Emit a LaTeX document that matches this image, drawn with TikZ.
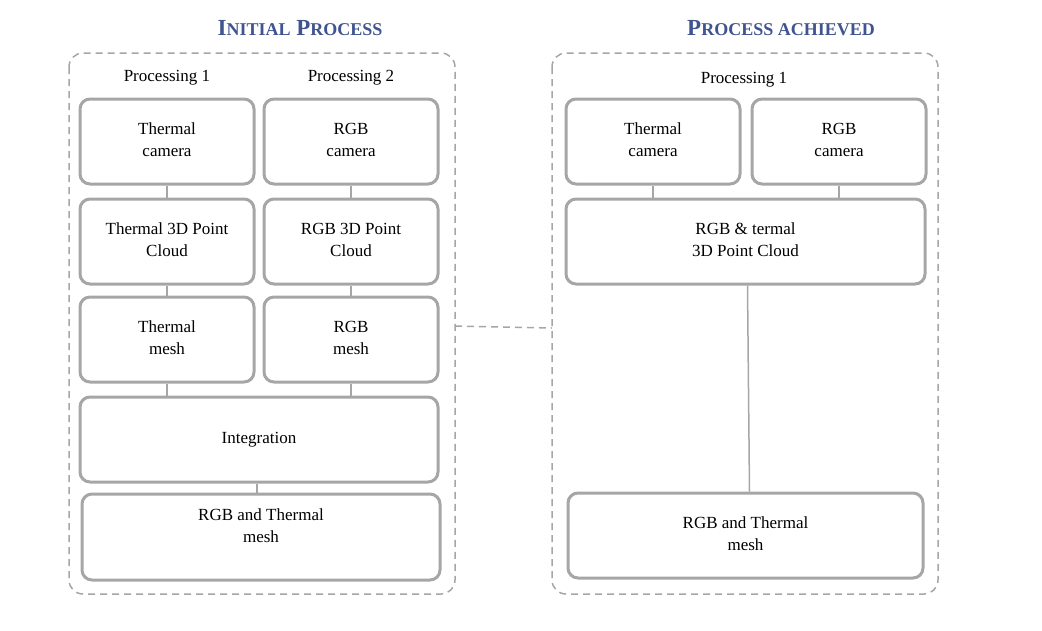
\documentclass[tikz,border=0pt]{standalone}
\usepackage{fontspec}
\setmainfont{Liberation Serif}
\usepackage{tikz}
\definecolor{Boxgray}{HTML}{A6A6A6}
\definecolor{Titleblue}{HTML}{3F5490}
\tikzset{
  stepbox/.style={draw=Boxgray, line width=3pt, rounded corners=10pt, fill=white,
    align=center, font=\fontsize{17}{22}\selectfont, inner sep=0pt, text depth=4pt},
  frame/.style={draw=Boxgray, dashed, line width=1.5pt, rounded corners=14pt, dash pattern=on 7pt off 5pt},
  link/.style={draw=Boxgray, line width=1.5pt},
  title/.style={text=Titleblue, font=\bfseries\fontsize{23}{26}\selectfont},
  lbl/.style={font=\fontsize{17}{21}\selectfont}
}
\begin{document}
\begin{tikzpicture}[x=1pt, y=-1pt]
\useasboundingbox (0,0) rectangle (1042,630);
% containers
\draw[frame] (69,53) rectangle (455,594);
\draw[frame] (552,53) rectangle (938,594);
\node[title] (t1) at (300,28) {I{\fontsize{18}{20}\selectfont NITIAL} P{\fontsize{18}{20}\selectfont ROCESS}};
\node[title] (t2) at (781,28) {P{\fontsize{18}{20}\selectfont ROCESS ACHIEVED}};
\node[lbl] (p1) at (167,78) {Processing 1};
\node[lbl] (p2) at (351,78) {Processing 2};
\node[lbl] (p3) at (744,80) {Processing 1};
% left side
\node[stepbox, minimum width=174pt, minimum height=85pt] (tcam) at (167,141.5) {Thermal\\camera};
\node[stepbox, minimum width=174pt, minimum height=85pt] (rcam) at (351,141.5) {RGB\\camera};
\node[stepbox, minimum width=174pt, minimum height=85pt] (tcloud) at (167,241.5) {Thermal 3D Point\\Cloud};
\node[stepbox, minimum width=174pt, minimum height=85pt] (rcloud) at (351,241.5) {RGB 3D Point\\Cloud};
\node[stepbox, minimum width=174pt, minimum height=85pt] (tmesh) at (167,339.5) {Thermal\\mesh};
\node[stepbox, minimum width=174pt, minimum height=85pt] (rmesh) at (351,339.5) {RGB\\mesh};
\node[stepbox, minimum width=358pt, minimum height=85pt] (integ) at (259,439.5) {Integration};
\node[stepbox, minimum width=358pt, minimum height=86pt] (lmesh) at (261,537) {RGB and Thermal\\mesh\\[-4pt]};
\draw[link] (tcam.south) -- (tcloud.north);
\draw[link] (rcam.south) -- (rcloud.north);
\draw[link] (tcloud.south) -- (tmesh.north);
\draw[link] (rcloud.south) -- (rmesh.north);
\draw[link] (tmesh.south) -- (tmesh.south |- integ.north);
\draw[link] (rmesh.south) -- (rmesh.south |- integ.north);
\draw[link] ([xshift=-2pt]integ.south) -- ([xshift=-4pt]lmesh.north);
% right side
\node[stepbox, minimum width=174pt, minimum height=85pt] (tcam2) at (653,141.5) {Thermal\\camera};
\node[stepbox, minimum width=174pt, minimum height=85pt] (rcam2) at (839,141.5) {RGB\\camera};
\node[stepbox, minimum width=359pt, minimum height=85pt] (cloud2) at (745.5,241.5) {RGB \& termal\\3D Point Cloud};
\node[stepbox, minimum width=355pt, minimum height=85pt] (mesh2) at (745.5,535.5) {RGB and Thermal\\mesh};
\draw[link] (tcam2.south) -- (tcam2.south |- cloud2.north);
\draw[link] (rcam2.south) -- (rcam2.south |- cloud2.north);
\draw[link] ([xshift=2pt]cloud2.south) -- ([xshift=4pt]mesh2.north);
% between the two processes
\coordinate (gapL) at (455,326);
\coordinate (gapR) at (552,328);
\draw[frame, rounded corners=0pt] (gapL) -- (gapR);
\end{tikzpicture}
\end{document}
